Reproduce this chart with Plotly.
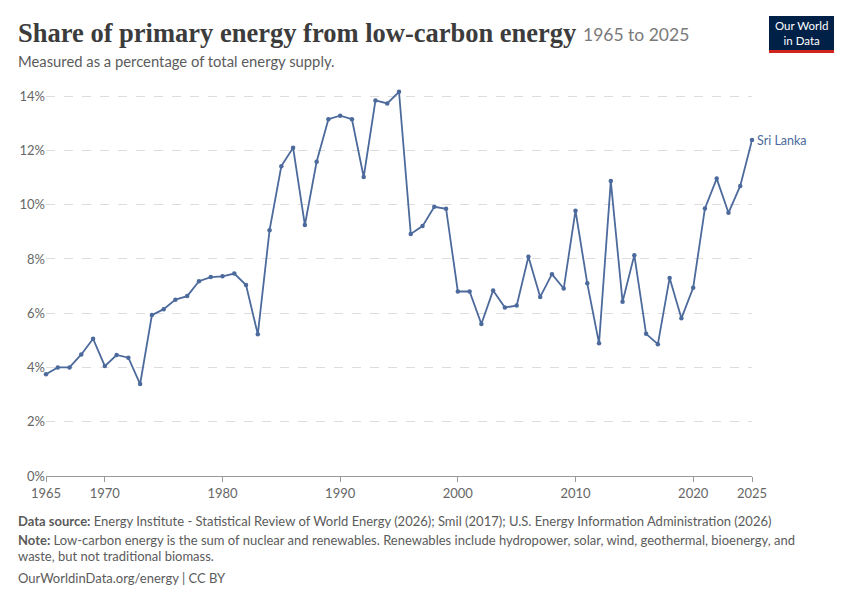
import plotly.graph_objects as go

# Sri Lanka, share of primary energy from low-carbon sources (%)
years = list(range(1965, 2026))
share = [3.75, 4.00, 4.00, 4.48, 5.06, 4.05, 4.46, 4.36, 3.39, 5.93,
         6.15, 6.50, 6.63, 7.18, 7.33, 7.36, 7.46, 7.04, 5.22, 9.06,
         11.42, 12.10, 9.25, 11.58, 13.15, 13.28, 13.15, 11.02, 13.84, 13.73,
         14.16, 8.92, 9.21, 9.92, 9.85, 6.80, 6.80, 5.60, 6.84, 6.21,
         6.28, 8.08, 6.60, 7.44, 6.91, 9.78, 7.10, 4.89, 10.87, 6.42,
         8.14, 5.24, 4.86, 7.30, 5.81, 6.94, 9.86, 10.96, 9.70, 10.69,
         12.38]
country = "Sri Lanka"

x_ticks = [1965, 1970, 1980, 1990, 2000, 2010, 2020, 2025]
y_ticks = [0, 2, 4, 6, 8, 10, 12, 14]
y_labels = [f"{v}%" for v in y_ticks]

OFF = 8  # page body margin
W, H = 850 - OFF, 600 - OFF
L, R, T, B = 46 - OFF, 752 - OFF, 88 - OFF, 476 - OFF  # plot area in pixels
line_col = "#4c6a9c"
font = "Lato, 'Open Sans', sans-serif"


def px(x, y):
    # page pixel -> paper coordinates
    x, y = x - OFF, y - OFF
    return (x - L) / (R - L), (B - y) / (B - T)


fig = go.Figure()
fig.add_trace(go.Scatter(x=years, y=share, mode="lines+markers",
                         line=dict(color=line_col, width=1.8),
                         marker=dict(size=4.5, color=line_col),
                         cliponaxis=False, showlegend=False,
                         hovertemplate="%{x}: %{y:.2f}%<extra></extra>"))

# end label
fig.add_annotation(x=years[-1], y=share[-1], text=country, showarrow=False,
                   xanchor="left", xshift=3, font=dict(size=12.5, color=line_col, family=font))

annots = []
tx, ty = px(16, 33)
annots.append(dict(x=tx, y=ty, text="<b>Share of primary energy from low-carbon energy</b>",
                   font=dict(family="'Liberation Serif', serif", size=26.5, color="#3c3c3c"),
                   xanchor="left", yanchor="middle"))
tx, ty = px(581, 34)
annots.append(dict(x=tx, y=ty, text="1965 to 2025",
                   font=dict(family=font, size=17.5, color="#7a7a7a"),
                   xanchor="left", yanchor="middle"))
tx, ty = px(16, 61)
annots.append(dict(x=tx, y=ty, text="Measured as a percentage of total energy supply.",
                   font=dict(family=font, size=14.8, color="#5b5b5b"),
                   xanchor="left", yanchor="middle"))

foot = dict(family=font, size=13, color="#5b5b5b")
tx, ty = px(16, 521)
annots.append(dict(x=tx, y=ty, font=foot, xanchor="left", yanchor="middle",
                   text="<b>Data source:</b> Energy Institute - Statistical Review of World Energy (2026); "
                        "Smil (2017); U.S. Energy Information Administration (2026)"))
tx, ty = px(16, 540)
annots.append(dict(x=tx, y=ty, font=foot, xanchor="left", yanchor="middle",
                   text="<b>Note:</b> Low-carbon energy is the sum of nuclear and renewables. Renewables "
                        "include hydropower, solar, wind, geothermal, bioenergy, and"))
tx, ty = px(16, 556)
annots.append(dict(x=tx, y=ty, font=foot, xanchor="left", yanchor="middle",
                   text="waste, but not traditional biomass."))
tx, ty = px(16, 578)
annots.append(dict(x=tx, y=ty, font=foot, xanchor="left", yanchor="middle",
                   text="OurWorldinData.org/energy | CC BY"))

# logo
x0, y0 = px(769, 16)
x1, y1 = px(834, 50)
_, y2 = px(769, 53)
shapes = [dict(type="rect", xref="paper", yref="paper", x0=x0, x1=x1, y0=y1, y1=y0,
               fillcolor="#002147", line=dict(width=0)),
          dict(type="rect", xref="paper", yref="paper", x0=x0, x1=x1, y0=y2, y1=y1,
               fillcolor="#ce261e", line=dict(width=0))]
tx, ty = px(801.5, 33)
annots.append(dict(x=tx, y=ty, text="Our World<br>in Data", align="center",
                   font=dict(family=font, size=11.5, color="white"),
                   xanchor="center", yanchor="middle"))

for a in annots:
    a.update(xref="paper", yref="paper", showarrow=False)
    fig.add_annotation(**a)

fig.update_layout(width=W, height=H, autosize=False,
                  margin=dict(l=L, r=W - R, t=T, b=H - B, pad=0),
                  plot_bgcolor="white", paper_bgcolor="white",
                  font=dict(family=font, color="#666666", size=13),
                  shapes=shapes)
fig.update_xaxes(range=[1965, 2025], tickvals=x_ticks, showgrid=False,
                 showline=True, linecolor="#999999", linewidth=1,
                 ticks="outside", ticklen=5, tickcolor="#999999",
                 tickfont=dict(size=13, color="#666666"), zeroline=False)
fig.update_yaxes(range=[0, 14.3], tickvals=y_ticks, ticktext=y_labels,
                 showgrid=True, gridcolor="#dddddd", griddash="dash", gridwidth=1,
                 zeroline=False, showline=False, ticks="",
                 tickfont=dict(size=13, color="#666666"))

fig.write_html("out.html")
